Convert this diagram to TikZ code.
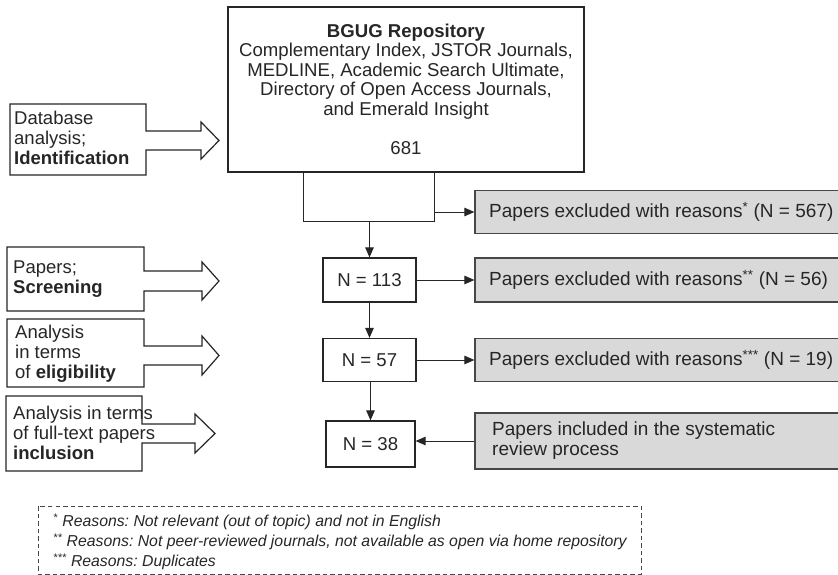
\documentclass[tikz,border=0pt]{standalone}
\usepackage{fontspec}
\setmainfont{Liberation Sans}
\usetikzlibrary{arrows.meta}
\definecolor{boxgrey}{HTML}{D9D9D9}
\definecolor{ink}{HTML}{262626}
\frenchspacing
\begin{document}
\begin{tikzpicture}[x=1pt,y=-1pt,
  every node/.style={text=ink, inner sep=0pt},
  bigtext/.style={font=\fontsize{18.6}{19.5}\selectfont},
  mainbox/.style={draw=ink, line width=1.2pt, rectangle, align=center, bigtext},
  countbox/.style={draw=ink, line width=1.2pt, rectangle, bigtext,
    minimum width=93pt},
  greybox/.style={draw=ink!85, fill=boxgrey, line width=1.2pt, rectangle,
    minimum width=370pt},
  greytext/.style={anchor=west, align=left, font=\fontsize{19}{20}\selectfont},
  stagebox/.style={draw=ink, line width=1.2pt, fill=white, line join=miter},
  stagetext/.style={anchor=west, align=left,
    font=\fontsize{18.5}{20}\selectfont},
  arr/.style={draw=ink, line width=1pt, -{Triangle[length=10pt,width=8.5pt]}},
  conn/.style={draw=ink, line width=1pt},
  legendbox/.style={draw=ink!85, line width=1pt, dash pattern=on 4.5pt off 3pt},
]
\useasboundingbox (0,0) rectangle (838,575);

% ---- source database box ----
\node[mainbox, minimum width=356pt, minimum height=165pt] (repo) at (406,89.5)
  {\textbf{BGUG Repository}\\
   Complementary Index, JSTOR Journals,\\
   MEDLINE, Academic Search Ultimate,\\
   Directory of Open Access Journals,\\
   and Emerald Insight\\[20pt]
   681};

% ---- counts after each stage ----
\node[countbox, minimum height=44pt] (n113) at (369.5,280) {N = 113};
\node[countbox, minimum height=43pt] (n57)  at (369.5,360) {N = 57};
\node[countbox, minimum height=46pt, minimum width=89pt] (n38) at (370.5,444) {N = 38};

% ---- excluded / included boxes (run off the right edge) ----
\node[greybox, minimum height=43pt] (g1) at (660,212) {};
\node[greybox, minimum height=44pt] (g2) at (660,280) {};
\node[greybox, minimum height=43pt] (g3) at (660,360) {};
\node[greybox, minimum height=56pt] (g4) at (660,441) {};
\node[greytext] (t1) at (489,212) {Papers excluded with reasons\textsuperscript{*} (N = 567)};
\node[greytext] (t2) at (489,280) {Papers excluded with reasons\textsuperscript{**} (N = 56)};
\node[greytext] (t3) at (489,360) {Papers excluded with reasons\textsuperscript{***} (N = 19)};
\node[greytext] (t4) at (492,441)
  {Papers included in the systematic\\review process};

% ---- connectors ----
\coordinate (bl) at (303,221);
\coordinate (br) at (434,221);
\coordinate (bm) at (369.5,221);
\draw[conn] (bl |- repo.south) -- (bl) -- (br) -- (br |- repo.south);
\draw[arr] (br |- g1.west) -- (g1.west);
\draw[arr] (bm) -- (n113.north);
\draw[arr] (n113.south) -- (n57.north);
\draw[arr] (n57.south -| n38.north) -- (n38.north);
\draw[arr] (n113.east) -- (g2.west);
\draw[arr] (n57.east) -- (g3.west);
\draw[arr] (g4.west) -- (g4.west -| n38.east);

% ---- stage labels with block arrows ----
\draw[stagebox] (10,104) -- (146,104) -- (146,131) -- (201,131) -- (201,122)
  -- (219,140.5) -- (201,159) -- (201,150) -- (146,150) -- (146,175) -- (10,175) -- cycle;
\node[stagetext] (s1) at (14,137.5) {Database\\analysis;\\\textbf{Identification}};

\draw[stagebox] (7,247) -- (144,247) -- (144,271) -- (202,271) -- (202,262)
  -- (219,281) -- (202,300) -- (202,291) -- (144,291) -- (144,311) -- (7,311) -- cycle;
\node[stagetext] (s2) at (13,279) {Papers;\\\textbf{Screening}};

\draw[stagebox] (7,319) -- (144,319) -- (144,346) -- (202,346) -- (202,336)
  -- (219,355.5) -- (202,375) -- (202,365) -- (144,365) -- (144,387) -- (7,387) -- cycle;
\node[stagetext] (s3) at (15,354) {Analysis\\in terms\\of \textbf{eligibility}};

\draw[stagebox] (6,396) -- (142,396) -- (142,424) -- (195,424) -- (195,414)
  -- (215,433.5) -- (195,453) -- (195,443) -- (142,443) -- (142,471) -- (6,471) -- cycle;
\node[stagetext] (s4) at (13,433) {Analysis in terms\\of full-text papers\\\textbf{inclusion}};

% ---- footnote legend ----
\draw[legendbox] (38,506) rectangle (641,574);
\node[anchor=west, align=left, font=\fontsize{15.8}{20}\selectfont\itshape] (notes) at (53,542)
  {\textsuperscript{*} Reasons: Not relevant (out of topic) and not in English\\
   \textsuperscript{**} Reasons: Not peer-reviewed journals, not available as open via home repository\\
   \textsuperscript{***} Reasons: Duplicates};
\end{tikzpicture}
\end{document}
